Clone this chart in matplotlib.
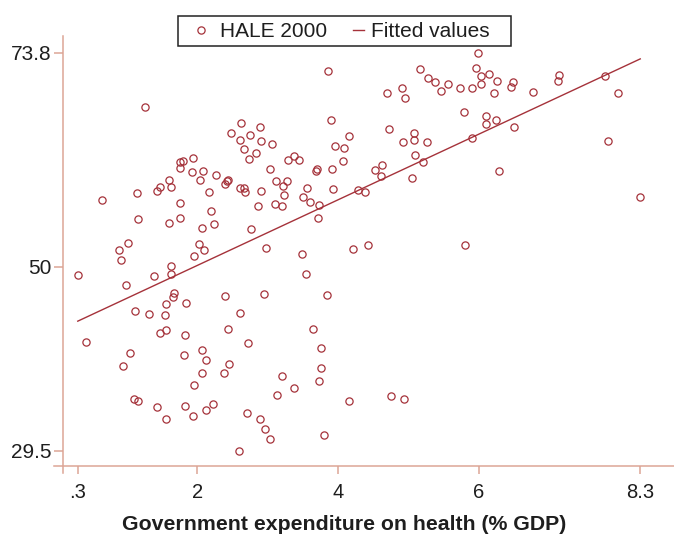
import numpy as np
import matplotlib
matplotlib.use("Agg")
from matplotlib import pyplot as plt
from matplotlib.lines import Line2D
from matplotlib.patches import Rectangle
from matplotlib.legend_handler import HandlerLine2D

# government expenditure on health (% GDP) vs HALE 2000
gov_exp = [5.99, 3.86, 5.17, 5.96, 6.15, 6.03, 7.14, 7.80, 5.28, 5.38,
           6.26, 6.49, 5.57, 6.04, 7.13, 5.74, 5.91, 6.46, 4.91, 5.47,
           4.70, 6.22, 6.78, 7.98, 4.96, 1.26, 5.80, 6.10, 6.25, 3.90,
           6.11, 2.62, 2.89, 6.51, 4.73, 2.48, 2.75, 5.08, 4.16, 2.61,
           2.91, 5.08, 5.91, 7.84, 4.92, 5.27, 3.06, 3.96, 4.09, 2.66,
           2.83, 1.94, 3.37, 3.29, 3.44, 2.73, 1.76, 1.80, 4.07, 5.10,
           1.76, 5.21, 4.62, 4.53, 3.03, 3.91, 3.70, 3.69, 1.93, 2.08,
           6.29, 2.26, 4.61, 5.06, 2.04, 1.60, 2.43, 2.42, 2.40, 3.12,
           3.27, 1.47, 1.63, 1.43, 2.61, 2.66, 2.68, 2.91, 3.22, 3.56,
           2.17, 1.14, 4.29, 4.39, 3.93, 3.24, 0.64, 8.30, 3.51, 3.61,
           1.76, 3.11, 2.86, 3.21, 3.73, 2.19, 1.15, 1.76, 3.71, 1.60,
           2.24, 2.07, 2.77, 1.02, 0.89, 2.03, 2.10, 2.98, 4.21, 4.43,
           5.81, 0.92, 1.96, 3.49, 1.62, 0.30, 1.38, 1.63, 3.54, 0.99,
           1.67, 1.65, 2.39, 2.95, 3.85, 1.56, 1.84, 1.12, 1.32, 1.54,
           2.61, 3.65, 2.44, 1.47, 1.55, 1.82, 0.42, 2.72, 3.76, 1.05,
           2.07, 1.81, 2.13, 2.45, 0.95, 3.76, 2.07, 2.38, 3.20, 3.73,
           3.38, 1.95, 3.14, 4.76, 4.94, 1.10, 1.16, 4.16, 1.43, 1.83,
           2.22, 2.12, 2.70, 1.94, 1.56, 2.89, 2.97, 3.03, 3.80, 2.59]

hale = [73.8, 71.8, 72.0, 72.1, 71.5, 71.2, 71.4, 71.2, 71.0, 70.6,
        70.7, 70.6, 70.3, 70.3, 70.7, 69.9, 69.9, 70.0, 69.9, 69.6,
        69.3, 69.3, 69.5, 69.3, 68.8, 67.8, 67.2, 66.8, 66.3, 66.3,
        65.9, 66.0, 65.5, 65.6, 65.3, 64.9, 64.7, 64.9, 64.5, 64.1,
        64.0, 64.1, 64.3, 64.0, 63.9, 63.9, 63.7, 63.4, 63.2, 63.1,
        62.7, 62.1, 62.3, 61.9, 61.9, 62.0, 61.6, 61.8, 61.8, 62.4,
        61.0, 61.7, 61.3, 60.8, 60.9, 60.9, 60.9, 60.7, 60.5, 60.6,
        60.6, 60.2, 60.1, 59.9, 59.7, 59.6, 59.7, 59.5, 59.2, 59.5,
        59.5, 58.9, 58.9, 58.4, 58.8, 58.8, 58.3, 58.4, 59.0, 58.7,
        58.3, 58.2, 58.5, 58.3, 58.6, 58.0, 57.4, 57.7, 57.7, 57.2,
        57.1, 57.0, 56.8, 56.8, 56.9, 56.2, 55.3, 55.4, 55.4, 54.9,
        54.7, 54.3, 54.2, 52.6, 51.9, 52.5, 51.9, 52.1, 52.0, 52.4,
        52.4, 50.7, 51.2, 51.4, 50.1, 49.1, 49.0, 49.2, 49.2, 48.0,
        47.1, 46.6, 46.7, 46.9, 46.8, 45.8, 45.9, 45.1, 44.7, 44.6,
        44.8, 43.1, 43.0, 42.6, 42.9, 42.4, 41.6, 41.5, 40.9, 40.4,
        40.7, 40.2, 39.6, 39.2, 38.9, 38.7, 38.1, 38.1, 37.8, 37.2,
        36.5, 36.8, 35.7, 35.6, 35.2, 35.3, 35.0, 35.0, 34.4, 34.5,
        34.7, 34.0, 33.7, 33.4, 33.0, 33.0, 31.9, 30.8, 31.2, 29.5]

x_ticks = [0.3, 2, 4, 6, 8.3]
x_ticklabels = [".3", "2", "4", "6", "8.3"]
y_ticks = [29.5, 50, 73.8]
y_ticklabels = ["29.5", "50", "73.8"]

red = "#a5323a"
axcol = "#dca596"
txt = "#1e1e1e"

plt.rcParams['font.family'] = ['Liberation Sans', 'DejaVu Sans']

fig = plt.figure(figsize=(6.74, 5.36), dpi=100)
ax = fig.add_axes([54/674, 1 - 473/536, 620/674, 437/536])

# linear fit like Stata's lfit
xs = np.array(gov_exp)
ys = np.array(hale)
b, a = np.polyfit(xs, ys, 1)
fit_x = np.array([xs.min(), xs.max()])
fit_y = a + b * fit_x

ax.plot(xs, ys, ls="none", marker="o", ms=5.2, mfc="none", mec=red, mew=0.9)
ax.plot(fit_x, fit_y, color=red, lw=1.0)

ax.set_xlim(-0.038, 8.78)
ax.set_ylim(27.0, 75.69)

for s in ["top", "right"]:
    ax.spines[s].set_visible(False)
ax.spines["left"].set_position(("data", 0.09))
ax.spines["left"].set_bounds(27.0, 75.69)
ax.spines["bottom"].set_position(("data", 27.78))
ax.spines["bottom"].set_bounds(-0.038, 8.78)
for s in ["left", "bottom"]:
    ax.spines[s].set_color(axcol)
    ax.spines[s].set_linewidth(1.1)

ax.set_xticks(x_ticks)
ax.set_xticklabels(x_ticklabels)
ax.set_yticks(y_ticks)
ax.set_yticklabels(y_ticklabels)
ax.tick_params(axis="x", length=6, width=1.1, color=axcol, labelsize=14.5,
               labelcolor=txt, pad=6)
ax.tick_params(axis="y", length=6.5, width=1.1, color=axcol, labelsize=15,
               labelcolor=txt, pad=1.5)

fig.text(344/674, 1 - 525/536, "Government expenditure on health (% GDP)",
         ha="center", va="center", fontsize=15.3, fontweight="bold", color=txt)

# legend box (Stata style: wide horizontal padding)
fig.patches.append(Rectangle((178/674, 1 - 46/536), 333/674, 30/536,
                             transform=fig.transFigure, fill=False,
                             ec="#222222", lw=1.1))

handles = [Line2D([], [], ls="none", marker="o", ms=5.2, mfc="none", mec=red, mew=0.9),
           Line2D([], [], color=red, lw=1.0)]
leg = fig.legend(handles, ["HALE 2000", "Fitted values"], loc="center left",
                 bbox_to_anchor=(189/674, 1 - 31.5/536), ncol=2, fontsize=15,
                 frameon=False, handlelength=1.152, handletextpad=0.336,
                 columnspacing=0.624, borderpad=0, borderaxespad=0,
                 handler_map={handles[1]: HandlerLine2D(xpad=0.624)})
for t in leg.get_texts():
    t.set_color(txt)

fig.savefig("out.png", dpi=100)
